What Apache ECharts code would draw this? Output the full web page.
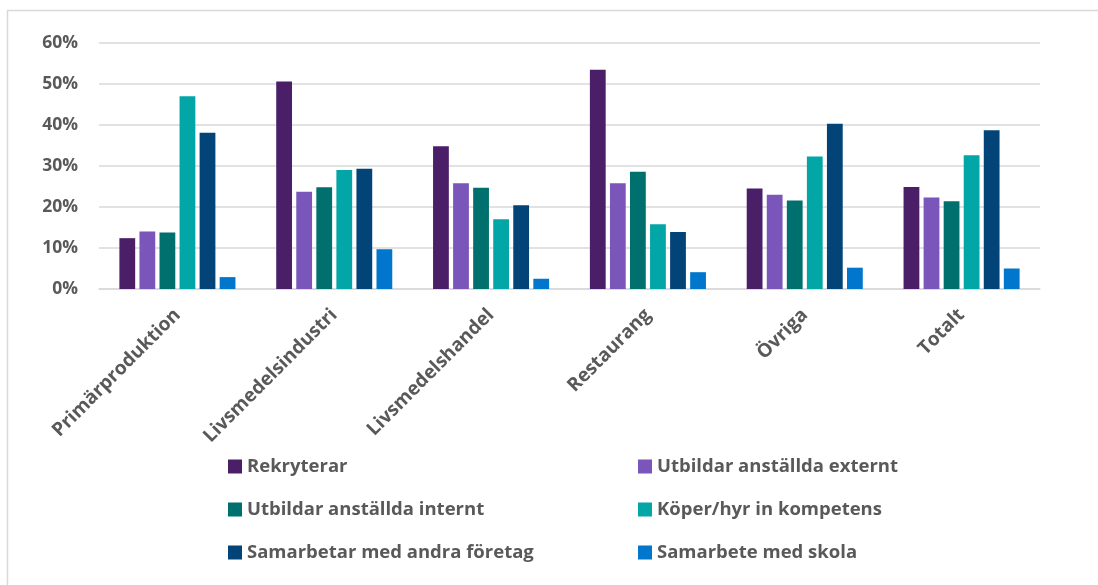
<!DOCTYPE html>
<html>
<head>
<meta charset="utf-8">
<script src="https://cdn.jsdelivr.net/npm/echarts@6/dist/echarts.min.js"></script>
<style>
html,body{margin:0;padding:0;background:#fff;}
#chart{width:1098px;height:585px;}
</style>
</head>
<body>
<div id="chart"></div>
<script>
const categories = ['Primärproduktion', 'Livsmedelsindustri', 'Livsmedelshandel', 'Restaurang', 'Övriga', 'Totalt'];
const seriesNames = ['Rekryterar', 'Utbildar anställda externt', 'Utbildar anställda internt', 'Köper/hyr in kompetens', 'Samarbetar med andra företag', 'Samarbete med skola'];
const rekryterar = [12.4, 50.6, 34.8, 53.5, 24.5, 24.9];
const utbildarExternt = [14.0, 23.7, 25.8, 25.8, 23.0, 22.3];
const utbildarInternt = [13.8, 24.8, 24.7, 28.6, 21.6, 21.4];
const koperHyr = [47.0, 29.0, 17.0, 15.8, 32.3, 32.6];
const samarbetarForetag = [38.1, 29.3, 20.4, 13.9, 40.3, 38.7];
const samarbeteSkola = [2.9, 9.7, 2.5, 4.1, 5.2, 5.0];
const yTicks = [0, 10, 20, 30, 40, 50, 60];

const values = [rekryterar, utbildarExternt, utbildarInternt, koperHyr, samarbetarForetag, samarbeteSkola];
const colors = ['#4B1F68', '#7A55BA', '#00706F', '#03A6A6', '#024478', '#0077CC'];

const font = '"Open Sans", "Liberation Sans", sans-serif';
const textGray = '#595959';

const chart = echarts.init(document.getElementById('chart'));
const legendText = { fontFamily: font, fontWeight: 'bold', fontSize: 18.5, color: textGray, lineHeight: 16 };
chart.setOption({
  animation: false,
  color: colors,
  graphic: [{
    type: 'rect',
    shape: { x: 7.5, y: 10.5, width: 1200, height: 700 },
    style: { fill: 'none', stroke: '#d9d9d9', lineWidth: 1.5 },
    silent: true
  }],
  grid: { left: 99, right: 58, top: 43, bottom: 296, containLabel: false },
  legend: [{
    orient: 'vertical',
    left: 223, top: 452,
    itemWidth: 14, itemHeight: 14, itemGap: 24,
    icon: 'rect',
    textStyle: legendText,
    data: [seriesNames[0], seriesNames[2], seriesNames[4]]
  }, {
    orient: 'vertical',
    left: 633, top: 452,
    itemWidth: 14, itemHeight: 14, itemGap: 24,
    icon: 'rect',
    textStyle: legendText,
    data: [seriesNames[1], seriesNames[3], seriesNames[5]]
  }],
  xAxis: {
    type: 'category',
    data: categories,
    axisLine: { show: true, lineStyle: { color: '#d9d9d9', width: 1.5 } },
    axisTick: { show: false },
    axisLabel: {
      rotate: 45, margin: 23, interval: 0,
      fontFamily: font, fontWeight: 'bold', fontSize: 19, color: textGray
    }
  },
  yAxis: {
    type: 'value',
    min: yTicks[0], max: yTicks[yTicks.length - 1], interval: 10,
    axisLine: { show: false },
    axisTick: { show: false },
    splitLine: { lineStyle: { color: '#d9d9d9', width: 1.5 } },
    axisLabel: {
      margin: 21,
      fontFamily: font, fontWeight: 'bold', fontSize: 17.5, color: textGray,
      formatter: v => v + '%'
    }
  },
  series: seriesNames.map((name, i) => ({
    name: name,
    type: 'bar',
    data: values[i],
    barGap: '27%',
    barCategoryGap: '26%',
    itemStyle: { color: colors[i] }
  }))
});
</script>
</body>
</html>
